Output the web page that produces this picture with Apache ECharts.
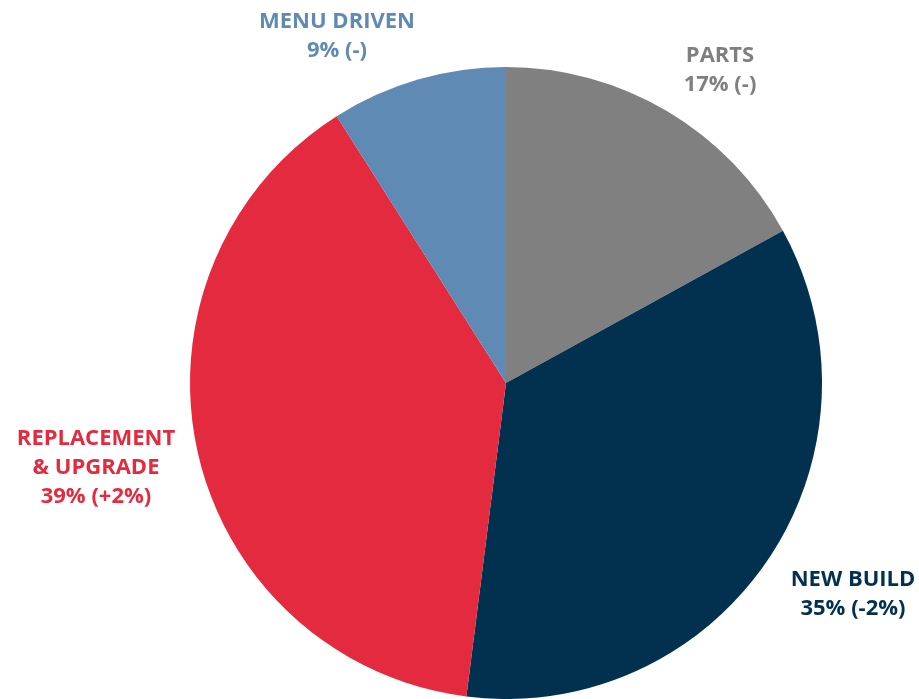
<!DOCTYPE html>
<html>
<head>
<meta charset="utf-8">
<script src="https://cdn.jsdelivr.net/npm/echarts@6/dist/echarts.min.js"></script>
<style>
  html, body { margin: 0; padding: 0; background: #ffffff; }
  #chart { width: 919px; height: 699px; }
</style>
</head>
<body>
<div id="chart"></div>
<script>
// Segment share of revenue, with change versus prior year
const categories = ['PARTS', 'NEW BUILD', 'REPLACEMENT\n& UPGRADE', 'MENU DRIVEN'];
const shares = [17, 35, 39, 9];
const changes = ['(-)', '(-2%)', '(+2%)', '(-)'];

const sliceColors = ['#808080', '#02304f', '#e42a3e', '#5f8ab4'];
const labelColors = ['#7f7f7f', '#02304f', '#e42a3e', '#5f8ab4'];
// label centre points (px) for each slice
const labelAnchors = [[720, 70], [853, 594], [96, 468], [337, 36]];

const chart = echarts.init(document.getElementById('chart'), null, { renderer: 'canvas' });

chart.setOption({
  animation: false,
  backgroundColor: '#ffffff',
  series: [{
    type: 'pie',
    center: [506, 383],
    radius: [0, 316],
    startAngle: 90,
    clockwise: true,
    data: categories.map((name, i) => ({
      name: name,
      value: shares[i],
      itemStyle: { color: sliceColors[i] },
      label: { color: labelColors[i] }
    })),
    label: {
      show: true,
      position: 'outside',
      alignTo: 'none',
      overflow: 'none',
      formatter: p => p.name + '\n' + p.value + '% ' + changes[p.dataIndex],
      fontFamily: 'Open Sans',
      fontWeight: 'bold',
      fontSize: 22,
      lineHeight: 29,
      align: 'center'
    },
    labelLine: { show: false },
    labelLayout: p => ({
      x: labelAnchors[p.dataIndex][0],
      y: labelAnchors[p.dataIndex][1],
      align: 'center',
      verticalAlign: 'middle'
    }),
    emphasis: { disabled: true }
  }]
});
</script>
</body>
</html>
